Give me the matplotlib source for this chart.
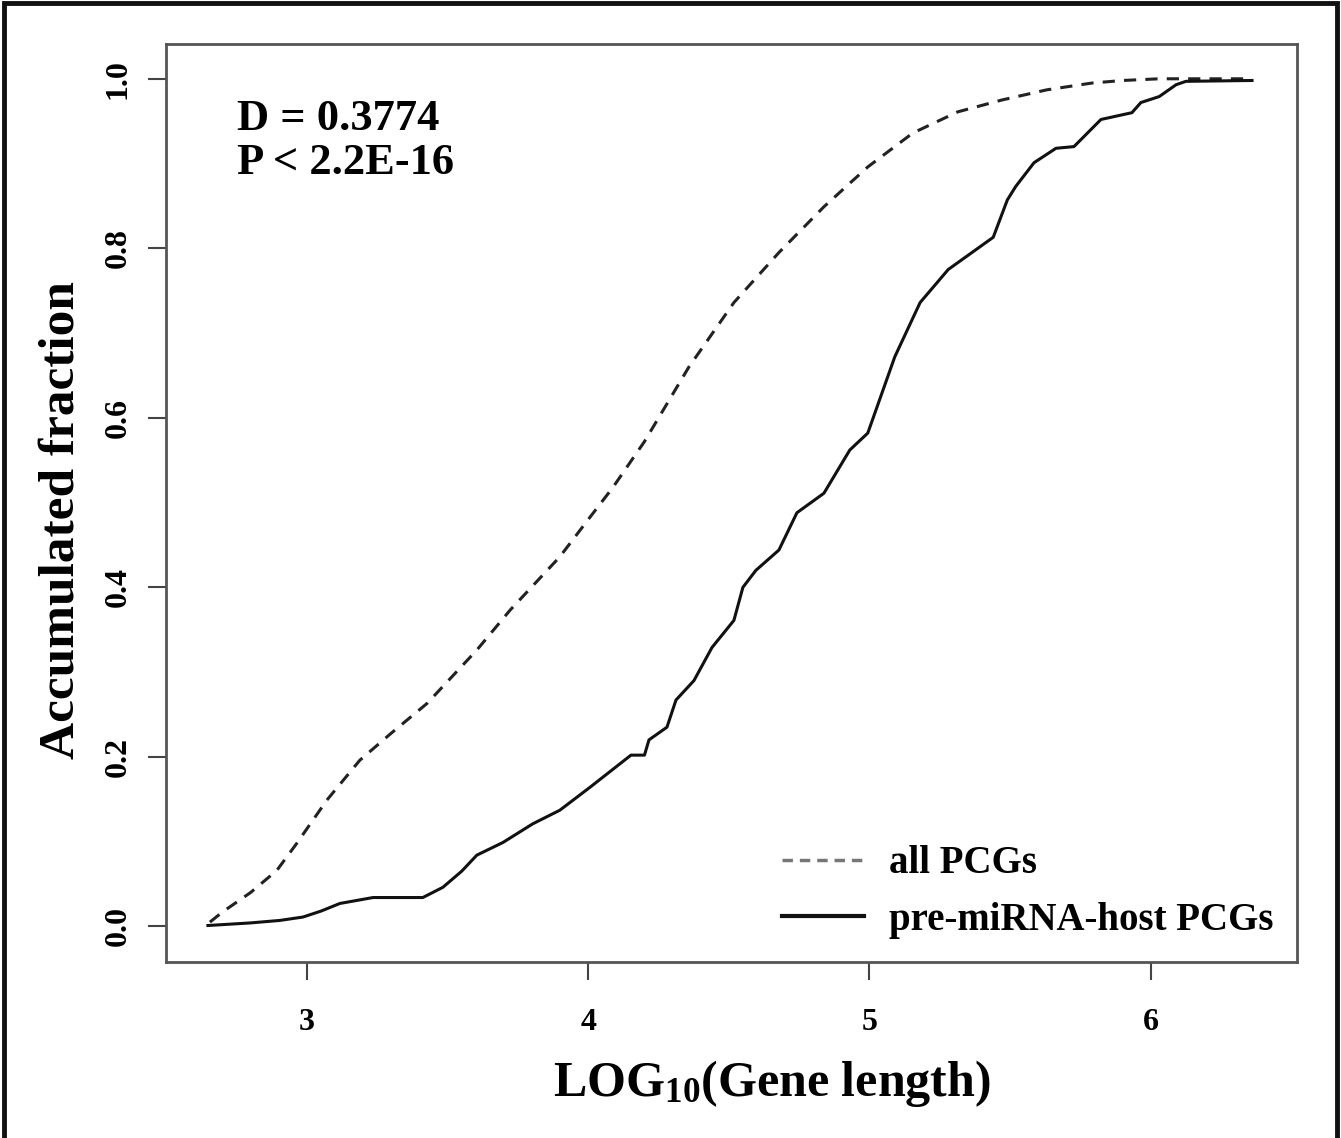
import matplotlib
matplotlib.use("Agg")
import matplotlib.pyplot as plt
from matplotlib.lines import Line2D
from matplotlib.patches import Rectangle

plt.rcParams["font.family"] = "Liberation Serif"
plt.rcParams["font.weight"] = "bold"
plt.rcParams["mathtext.fontset"] = "custom"
plt.rcParams["mathtext.rm"] = "Liberation Serif:bold"
plt.rcParams["mathtext.it"] = "Liberation Serif:bold"
plt.rcParams["mathtext.bf"] = "Liberation Serif:bold"

# all PCGs (dashed)
all_x = [2.655, 2.70, 2.80, 2.893, 2.964, 3.071, 3.188, 3.30, 3.427, 3.604, 3.722, 3.899,
         4.0, 4.088, 4.20, 4.358, 4.518, 4.678, 4.838, 4.994, 5.154, 5.314, 5.471, 5.631,
         5.791, 5.90, 6.03, 6.36]
all_y = [0.005, 0.017, 0.04, 0.066, 0.098, 0.149, 0.196, 0.228, 0.263, 0.326, 0.373, 0.436,
         0.48, 0.518, 0.572, 0.660, 0.736, 0.795, 0.849, 0.896, 0.936, 0.961, 0.975, 0.987,
         0.995, 0.998, 1.0, 1.0]

# pre-miRNA-host PCGs (solid)
host_x = [2.648, 2.797, 2.904, 2.986, 3.05, 3.117, 3.235, 3.412, 3.483, 3.55, 3.604, 3.697,
          3.803, 3.899, 4.006, 4.152, 4.20, 4.216, 4.28, 4.312, 4.376, 4.44, 4.518, 4.55,
          4.596, 4.678, 4.742, 4.838, 4.93, 4.994, 5.09, 5.18, 5.28, 5.44, 5.49, 5.52,
          5.585, 5.663, 5.727, 5.823, 5.933, 5.965, 6.03, 6.09, 6.125, 6.36]
host_y = [0.001, 0.004, 0.007, 0.011, 0.018, 0.027, 0.034, 0.034, 0.046, 0.065, 0.084, 0.099,
          0.121, 0.137, 0.164, 0.202, 0.202, 0.220, 0.235, 0.267, 0.290, 0.329, 0.361, 0.400,
          0.420, 0.444, 0.488, 0.511, 0.562, 0.582, 0.672, 0.736, 0.775, 0.813, 0.857, 0.873,
          0.901, 0.918, 0.920, 0.952, 0.960, 0.972, 0.979, 0.993, 0.997, 0.998]

x_ticks = [3, 4, 5, 6]
y_ticks = [0.0, 0.2, 0.4, 0.6, 0.8, 1.0]

fig = plt.figure(figsize=(13.41, 11.38), dpi=100)
ax = fig.add_axes([0.1238, 0.1547, 0.8434, 0.8066])

ax.plot(all_x, all_y, color="#222222", lw=2.2, linestyle=(0, (4, 3)))
ax.plot(host_x, host_y, color="#111111", lw=2.2)

ax.set_xlim(2.499, 6.52)
ax.set_ylim(-0.042, 1.041)
ax.set_xticks(x_ticks)
ax.set_yticks(y_ticks)
ax.set_xticklabels([str(t) for t in x_ticks], fontsize=23, fontweight="bold")
ax.set_yticklabels(["%.1f" % t for t in y_ticks], fontsize=23, fontweight="bold",
                   rotation=90, va="center")
ax.tick_params(axis="both", length=13, width=1.5, color="#444444")
ax.tick_params(axis="x", pad=20)
ax.tick_params(axis="y", pad=11)
for s in ax.spines.values():
    s.set_linewidth(2)
    s.set_color("#555555")

ax.set_xlabel("LOG$_{10}$(Gene length)", fontsize=36, fontweight="bold")
ax.xaxis.set_label_coords(0.536, -0.105)
ax.set_ylabel("Accumulated fraction", fontsize=37, fontweight="bold")
ax.yaxis.set_label_coords(-0.072, 0.481)

ax.text(0.063, 0.94, "D = 0.3774\nP < 2.2E-16", transform=ax.transAxes,
        fontsize=32, fontweight="bold", va="top", ha="left", linespacing=1.12)

handles = [Line2D([], [], color="#777777", lw=2.5, linestyle=(0, (3, 2))),
           Line2D([], [], color="#111111", lw=3)]
ax.legend(handles, ["all PCGs", "pre-miRNA-host PCGs"], loc="lower right",
          frameon=False, handlelength=2.1, handletextpad=0.65,
          borderaxespad=0.2, labelspacing=0.5,
          prop={"family": "Liberation Serif", "weight": "bold", "size": 28})

fig.patches.append(Rectangle((0.003, -0.02), 0.994, 1.017, transform=fig.transFigure,
                             fill=False, edgecolor="#111111", lw=3.5))

fig.savefig("out.png", dpi=100)
